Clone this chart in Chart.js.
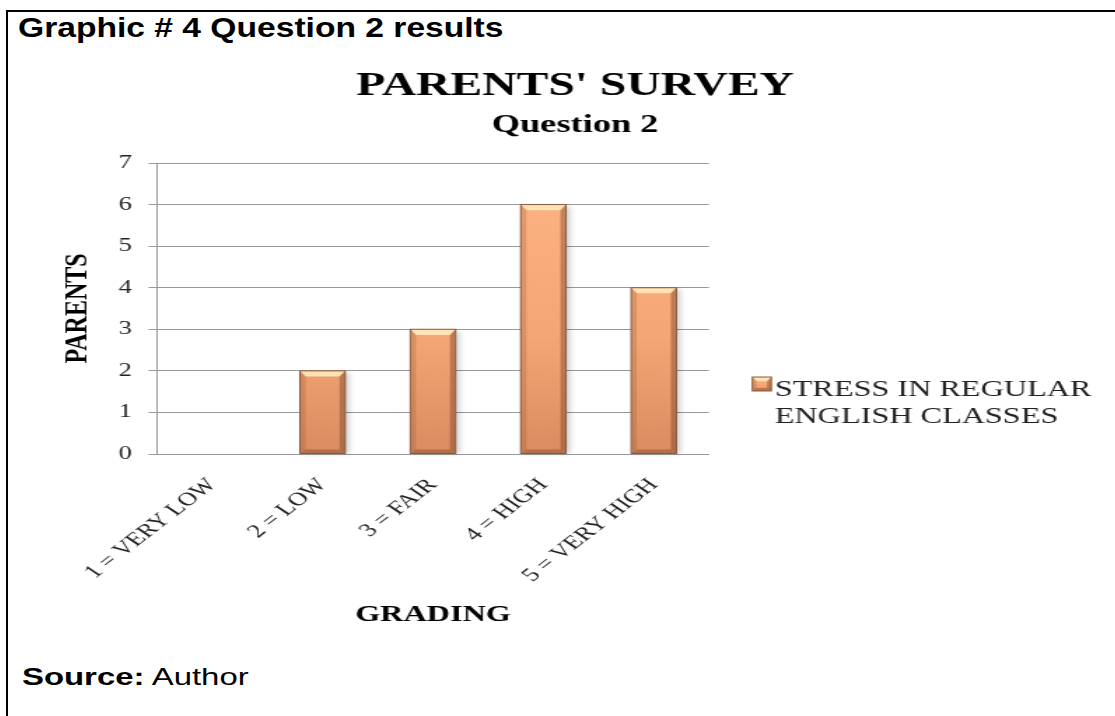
<!DOCTYPE html>
<html>
<head>
<meta charset="utf-8">
<script src="https://cdn.jsdelivr.net/npm/chart.js@4"></script>
<style>
  body { margin: 0; width: 1115px; height: 716px; overflow: hidden; background: #fff; position: relative; }
  #frame { position: absolute; left: 6px; top: 10px; width: 2000px; height: 2000px; border-left: 2px solid #000; border-top: 2px solid #000; }
  .doc { position: absolute; font-family: "Liberation Sans", Arial, sans-serif; color: #000; white-space: nowrap; transform-origin: left top; }
  #header { left: 18px; top: 14px; font-size: 28px; line-height: 28px; font-weight: bold; transform: scaleX(1.2); }
  #source { left: 22px; top: 665px; font-size: 24px; line-height: 24px; transform: scaleX(1.37); }
  #wrap { position: absolute; left: 50px; top: 55px; transform: scaleX(1.4); transform-origin: left top; }
</style>
</head>
<body>
<div id="frame"></div>
<div class="doc" id="header">Graphic # 4 Question 2 results</div>
<div class="doc" id="source"><b>Source:</b> Author</div>
<div id="wrap"><canvas id="myChart" width="750" height="590"></canvas></div>

<script>
// chart data
var gradeLabels = ["1 = VERY LOW", "2 = LOW", "3 = FAIR", "4 = HIGH", "5 = VERY HIGH"];
var parentCounts = [0, 2, 3, 6, 4];
var seriesName = ["STRESS IN REGULAR", "ENGLISH CLASSES"];
var yTicks = [0, 1, 2, 3, 4, 5, 6, 7];

var serif = "'Liberation Serif', 'Times New Roman', serif";

// orange fill, lighter on top
function barFill(ctx, top, bottom) {
  var g = ctx.createLinearGradient(0, top, 0, bottom);
  g.addColorStop(0, "#ffb585");
  g.addColorStop(0.6, "#f4a674");
  g.addColorStop(1, "#d98c60");
  return g;
}

// the little bevel look on each bar
function bevel(ctx, left, top, right, bottom, b) {
  ctx.save();
  ctx.fillStyle = "rgba(255, 230, 185, 0.95)";
  ctx.beginPath();
  ctx.moveTo(left, top); ctx.lineTo(right, top);
  ctx.lineTo(right - b, top + b * 1.4); ctx.lineTo(left + b, top + b * 1.4);
  ctx.closePath(); ctx.fill();

  ctx.fillStyle = "rgba(140, 80, 45, 0.25)";
  ctx.beginPath();
  ctx.moveTo(left, top); ctx.lineTo(left + b, top + b * 1.4);
  ctx.lineTo(left + b, bottom - b); ctx.lineTo(left, bottom);
  ctx.closePath(); ctx.fill();

  ctx.fillStyle = "rgba(110, 60, 35, 0.4)";
  ctx.beginPath();
  ctx.moveTo(right, top); ctx.lineTo(right - b, top + b * 1.4);
  ctx.lineTo(right - b, bottom - b); ctx.lineTo(right, bottom);
  ctx.closePath(); ctx.fill();

  ctx.fillStyle = "rgba(120, 70, 40, 0.4)";
  ctx.beginPath();
  ctx.moveTo(left, bottom); ctx.lineTo(left + b, bottom - b);
  ctx.lineTo(right - b, bottom - b); ctx.lineTo(right, bottom);
  ctx.closePath(); ctx.fill();

  ctx.strokeStyle = "#8a5a3e";
  ctx.lineWidth = 1;
  ctx.strokeRect(left, top, right - left, bottom - top);
  ctx.restore();
}

function eachBar(chart, fn) {
  var meta = chart.getDatasetMeta(0);
  meta.data.forEach(function(bar, i) {
    if (!parentCounts[i]) return;
    var p = bar.getProps(["x", "y", "width", "base"], true);
    fn(p.x - p.width / 2, p.y, p.x + p.width / 2, p.base);
  });
}

var bevelPlugin = {
  id: "bevelBars",
  // soft grey shadow right of the bars
  beforeDatasetsDraw: function(chart) {
    var ctx = chart.ctx;
    ctx.save();
    ctx.filter = "blur(2px)";
    ctx.fillStyle = "rgba(0, 0, 0, 0.18)";
    eachBar(chart, function(l, t, r, b) {
      ctx.fillRect(l + 2, t + 2, r - l + 1, b - t - 2);
    });
    ctx.restore();
  },
  afterDatasetsDraw: function(chart) {
    eachBar(chart, function(l, t, r, b) {
      bevel(chart.ctx, l, t, r, b, 4);
    });
  }
};

// legend drawn by hand so the label can wrap on two lines
var sideLegend = {
  id: "sideLegend",
  afterDraw: function(chart) {
    var ctx = chart.ctx;
    var area = chart.chartArea;
    var bx = area.right + 31;
    var by = area.top + 214;
    ctx.save();
    ctx.fillStyle = barFill(ctx, by, by + 14);
    ctx.fillRect(bx, by, 13.5, 14);
    bevel(ctx, bx, by, bx + 13.5, by + 14, 3);
    ctx.fillStyle = "#222";
    ctx.font = "23px " + serif;
    ctx.textBaseline = "middle";
    seriesName.forEach(function(line, i) {
      ctx.fillText(line, bx + 16, by + 13 + i * 26.5);
    });
    ctx.restore();
  }
};

var ctx = document.getElementById("myChart").getContext("2d");
var chart = new Chart(ctx, {
  type: "bar",
  data: {
    labels: gradeLabels,
    datasets: [
      {
        label: seriesName.join(" "),
        data: parentCounts,
        backgroundColor: function(c) {
          var a = c.chart.chartArea;
          if (!a) return "#f4a674";
          return barFill(c.chart.ctx, a.top, a.bottom);
        },
        borderWidth: 0,
        categoryPercentage: 1,
        barPercentage: 0.41
      }
    ]
  },
  options: {
    responsive: false,
    animation: false,
    layout: { padding: 0 },
    plugins: {
      legend: { display: false },
      tooltip: { enabled: false },
      title: {
        display: true,
        text: "PARENTS' SURVEY",
        color: "#000",
        font: { family: serif, size: 34, weight: "bold", lineHeight: 1.2 },
        padding: { top: 11, bottom: 0 }
      },
      subtitle: {
        display: true,
        text: "Question 2",
        color: "#000",
        font: { family: serif, size: 26, weight: "bold", lineHeight: 1.2 },
        padding: { top: 3, bottom: 22 }
      }
    },
    scales: {
      x: {
        grid: { display: false, drawTicks: false },
        border: { display: true, color: "#999", width: 1 },
        ticks: {
          color: "#222",
          font: { family: serif, size: 19 },
          minRotation: 47,
          maxRotation: 47,
          padding: 20,
          labelOffset: 0,
          autoSkip: false
        },
        title: {
          display: true,
          text: "GRADING",
          color: "#000",
          font: { family: serif, size: 23, weight: "bold", lineHeight: 1.2 },
          padding: { top: 0, bottom: 16 }
        },
        afterFit: function(scale) { scale.height = 191; }
      },
      y: {
        min: 0,
        max: 7,
        afterBuildTicks: function(scale) {
          scale.ticks = yTicks.map(function(v) { return { value: v }; });
        },
        grid: { color: "#999", lineWidth: 1, tickLength: 6, drawTicks: true },
        border: { display: true, color: "#999", width: 1 },
        ticks: {
          color: "#222",
          font: { family: serif, size: 19 },
          padding: 12
        },
        title: {
          display: true,
          text: "PARENTS",
          color: "#000",
          font: { family: serif, size: 24, weight: "bold", lineHeight: 1.2 },
          padding: { top: 5, bottom: 0 }
        },
        afterFit: function(scale) { scale.width = 76.4; }
      },
      // empty scale on the right, only keeps room for the legend
      legendRoom: {
        type: "linear",
        position: "right",
        grid: { display: false },
        border: { display: false },
        ticks: { display: false },
        afterFit: function(scale) { scale.width = 279.3; }
      }
    }
  },
  plugins: [bevelPlugin, sideLegend]
});
</script>
</body>
</html>
